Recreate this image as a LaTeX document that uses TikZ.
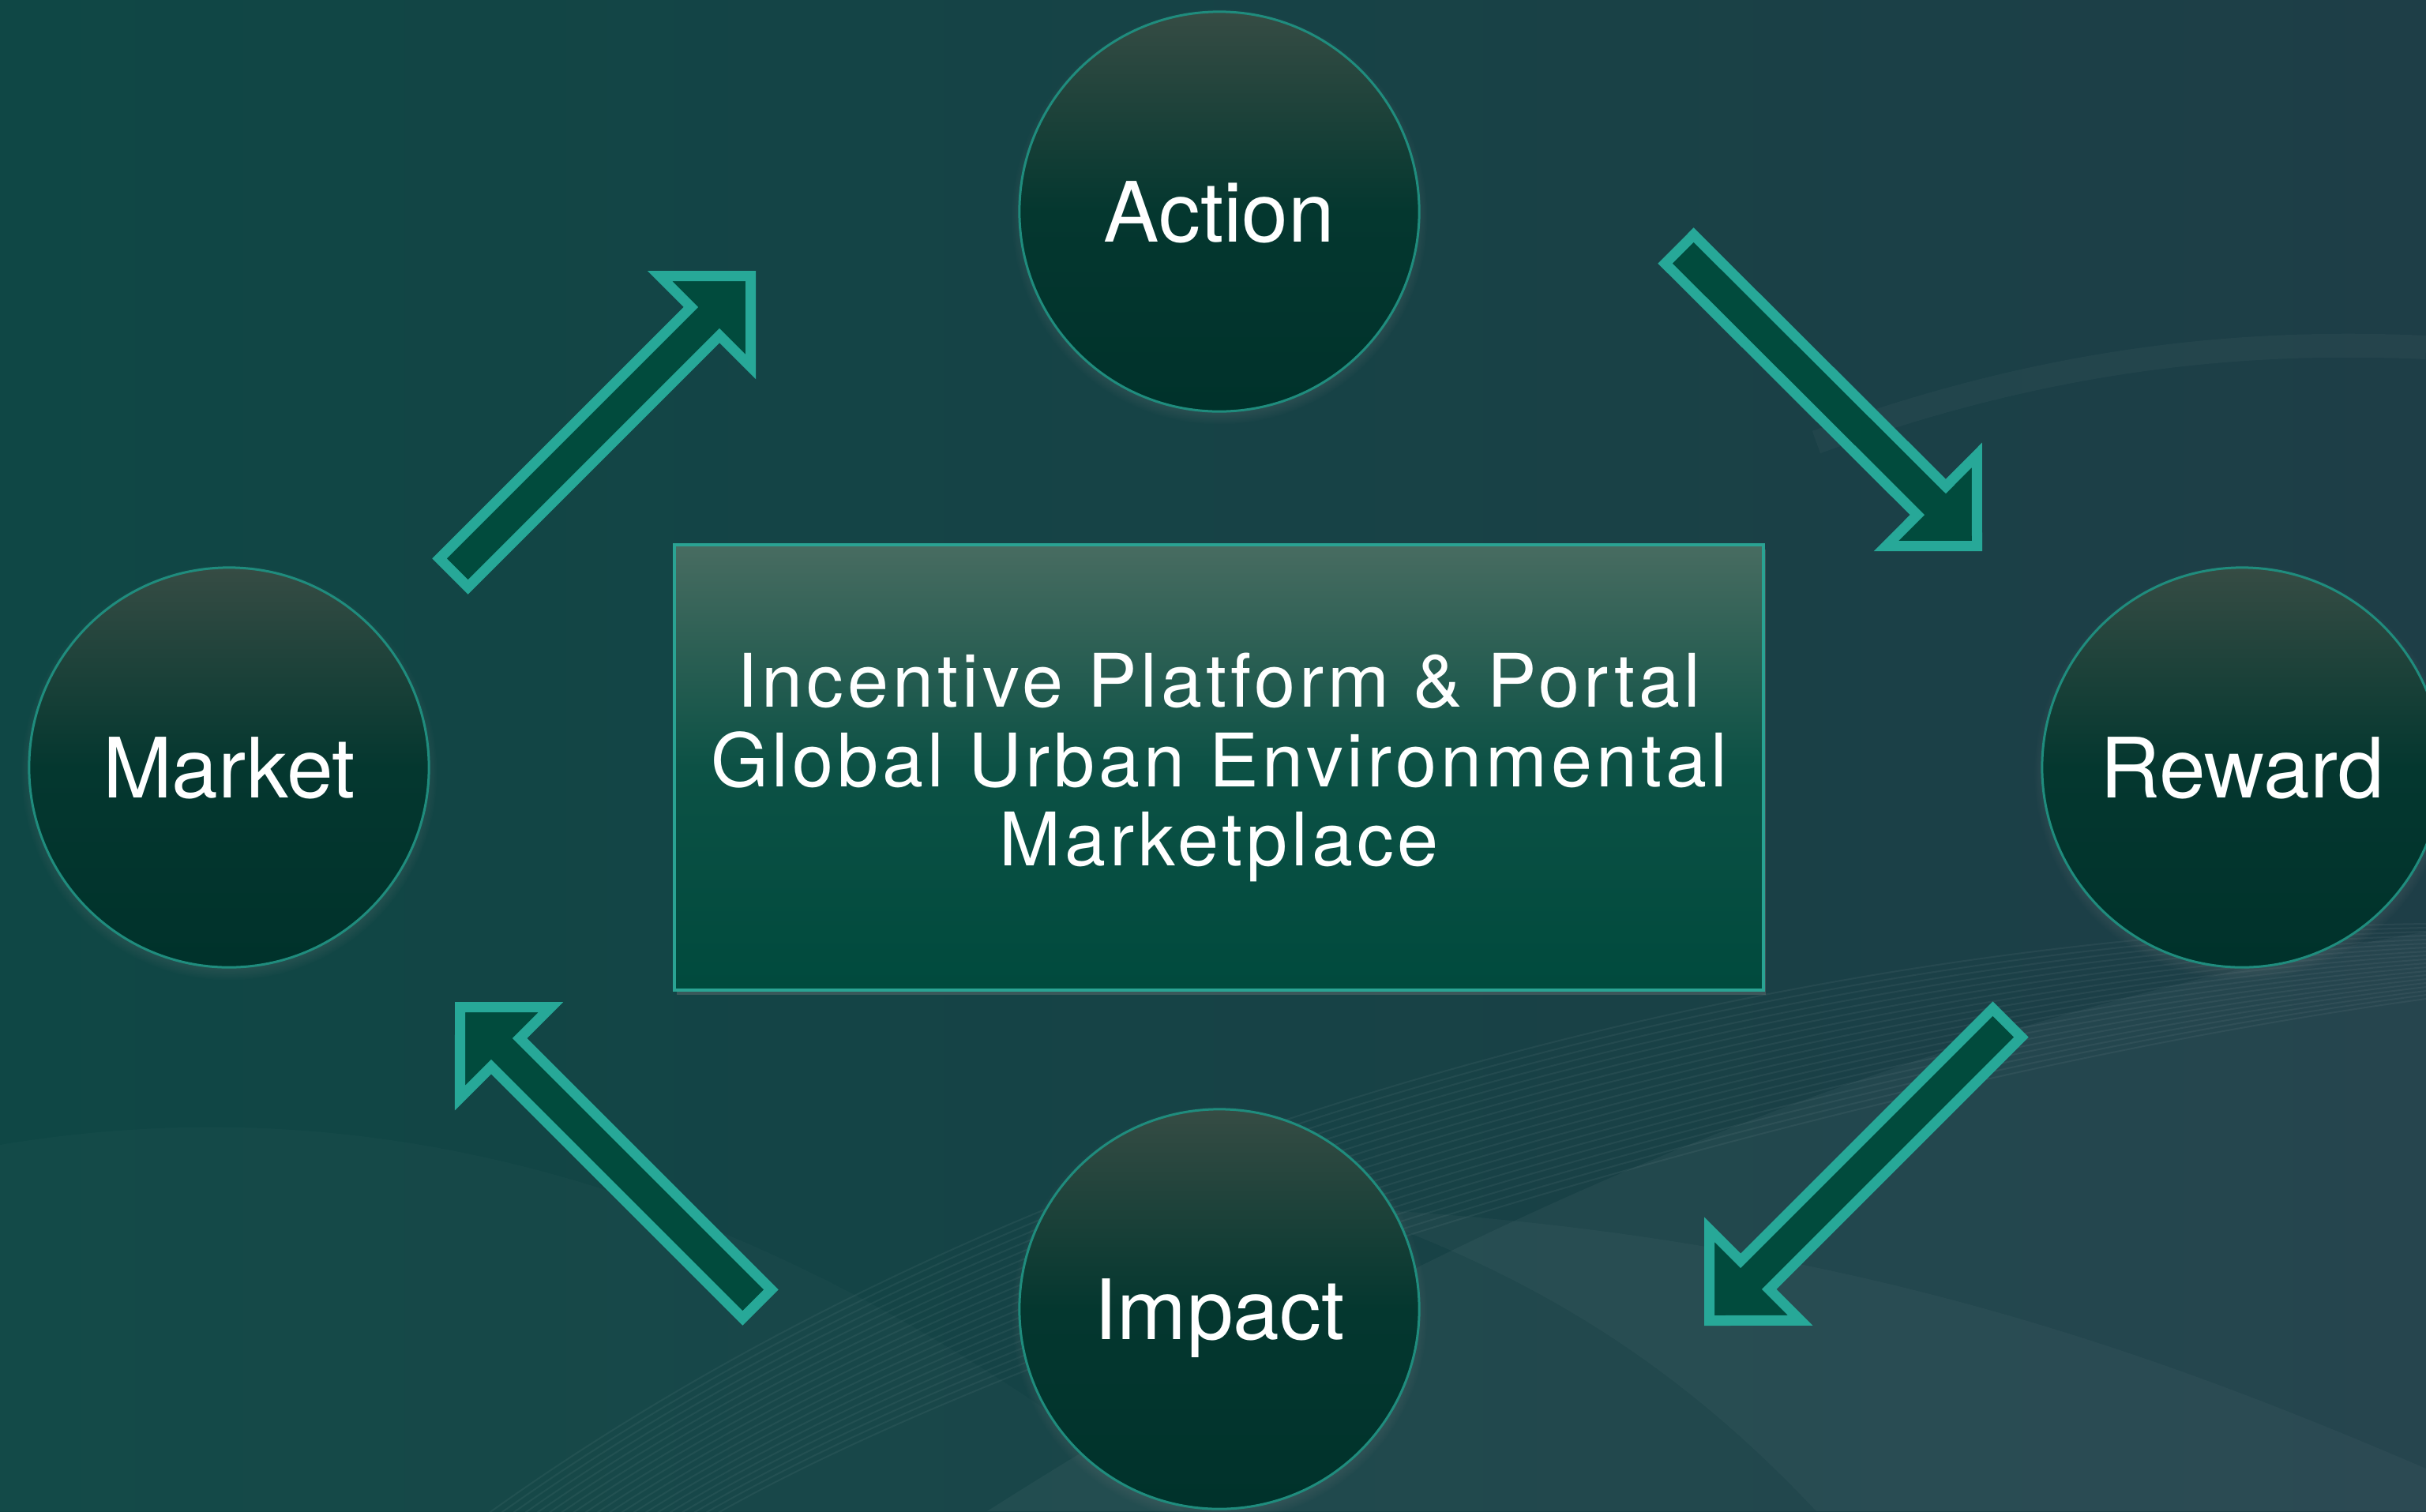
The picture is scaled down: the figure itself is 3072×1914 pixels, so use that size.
\documentclass[tikz,border=0pt]{standalone}
\usepackage{fontspec}
\setmainfont{TeX Gyre Heros}
\newfontfamily\platformfont[LetterSpace=5.3]{TeX Gyre Heros}
\usetikzlibrary{calc,shadows}

\definecolor{bgleft}{HTML}{0F4745}
\definecolor{bgright}{HTML}{1E3E47}
\definecolor{ringline}{HTML}{1F8C7D}
\definecolor{ringtop}{HTML}{364C44}
\definecolor{ringmid}{HTML}{04372F}
\definecolor{ringbot}{HTML}{00322B}
\definecolor{boxtop}{HTML}{486C61}
\definecolor{boxmid}{HTML}{0C5145}
\definecolor{boxbot}{HTML}{004A3D}
\definecolor{boxline}{HTML}{2AA393}
\definecolor{arrowline}{HTML}{27A898}
\definecolor{arrowfill}{HTML}{014B3D}

% block arrow from tail (#1) to tip (#2)
\def\flowarrow(#1)(#2){\draw[arrowbody] ($(#1)!0.255cm!90:(#2)$) -- ($(#1)!0.847!(#2)!0.255cm!90:(#2)$) -- ($(#1)!0.847!(#2)!0.813cm!90:(#2)$) -- (#2) -- ($(#1)!0.847!(#2)!0.813cm!-90:(#2)$) -- ($(#1)!0.847!(#2)!0.255cm!-90:(#2)$) -- ($(#1)!0.255cm!-90:(#2)$) -- cycle;}

\tikzset{
	stage/.style={circle, draw=ringline, line width=0.03cm, minimum size=5.06cm, inner sep=0pt,
		top color=ringtop, bottom color=ringbot, middle color=ringmid,
		circular drop shadow={shadow scale=1.04, shadow xshift=0cm, shadow yshift=-0.06cm, opacity=0.45},
		text=white, font=\fontsize{30pt}{34pt}\selectfont, text depth=0pt},
	platform/.style={rectangle, draw=boxline, line width=0.04cm, minimum width=13.79cm, minimum height=5.64cm,
		top color=boxtop, bottom color=boxbot, middle color=boxmid,
		drop shadow={opacity=0.35, shadow xshift=0.03cm, shadow yshift=-0.06cm},
		text=white, align=center, font=\platformfont\fontsize{26.6pt}{28.6pt}\selectfont},
	arrowbody/.style={draw=arrowline, fill=arrowfill, line width=0.13cm, line join=miter,
		drop shadow={opacity=0.35, shadow xshift=0.03cm, shadow yshift=-0.05cm}},
	wave/.style={white, opacity=0.05, line width=0.02cm}
}

\begin{document}
\begin{tikzpicture}[x=0.01cm, y=-0.01cm]
		%%%%% START %%%%%
		
		\useasboundingbox (0,0) rectangle (3072,1914);
		\clip (0,0) rectangle (3072,1914);
		
		% background
		\shade[left color=bgleft, right color=bgright] (0,0) rectangle (3072,1914);
		\fill[white, opacity=0.04] (1250,1914) .. controls (1900,1500) and (2500,1280) .. (3072,1180) -- (3072,1914) -- cycle;
		\fill[white, opacity=0.03] (1700,1530) .. controls (2300,1560) and (2700,1700) .. (3072,1860) -- (3072,1914) -- (2300,1914) .. controls (2100,1700) and (1900,1600) .. (1700,1530) -- cycle;
		\fill[white, opacity=0.02] (0,1450) .. controls (600,1350) and (1100,1600) .. (1500,1914) -- (0,1914) -- cycle;
		\foreach \k in {0,...,19}
			\draw[wave] (600+\k*15,1930) .. controls (1300,1420+\k*14) and (2300,1180+\k*10) .. (3072,1170+\k*5);
		\draw[white, opacity=0.03, line width=0.3cm] (2300,560) .. controls (2600,450) and (2850,430) .. (3072,440);
		
		% coordinates of the arrows
		\coordinate (toaction-tail) at (574.6,725.4);
		\coordinate (toaction-tip) at (950.5,349.5);
		\coordinate (toreward-tail) at (2126.6,315.6);
		\coordinate (toreward-tip) at (2503.5,691.5);
		\coordinate (toimpact-tail) at (2541.4,1295.6);
		\coordinate (toimpact-tip) at (2164.5,1672.5);
		\coordinate (tomarket-tail) at (958.4,1651.4);
		\coordinate (tomarket-tip) at (582.5,1275.5);
		
		\flowarrow(toaction-tail)(toaction-tip)
		\flowarrow(toreward-tail)(toreward-tip)
		\flowarrow(toimpact-tail)(toimpact-tip)
		\flowarrow(tomarket-tail)(tomarket-tip)
		
		% centre box
		\node[platform] (portal) at (1543.5,972) {Incentive Platform \& Portal\\Global Urban Environmental\\Marketplace};
		
		% the four stages
		\node[stage] (action) at (1544,268) {Action};
		\node[stage] (reward) at (2839,972) {Reward};
		\node[stage] (impact) at (1544,1658) {Impact};
		\node[stage] (market) at (290,972) {Market};
		
		%%%%% END %%%%%
\end{tikzpicture}
\end{document}
